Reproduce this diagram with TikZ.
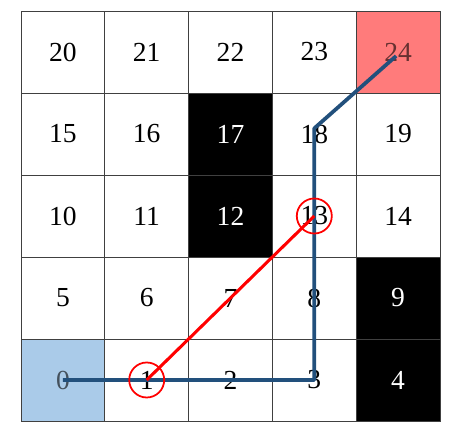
\documentclass[tikz,border=0pt]{standalone}
\usepackage{fontspec}
\setmainfont{Liberation Serif}
\definecolor{gridgray}{HTML}{404040}
\definecolor{startblue}{HTML}{AACBE9}
\definecolor{goalred}{HTML}{FF7B7B}
\definecolor{pathblue}{HTML}{22507C}
\tikzset{
    cellbox/.style={draw=gridgray, line width=0.7pt, minimum width=2.514cm, minimum height=2.46cm,
        inner sep=0pt, outer sep=0pt, font=\fontsize{23.5}{28}\selectfont},
    wall/.style={fill=black, text=white},
    startcell/.style={fill=startblue, text=startblue!40!black},
    goalcell/.style={fill=goalred, text=goalred!40!black},
    ring/.style={draw=red, line width=1.5pt, circle, minimum size=1.05cm}
}
\begin{document}
\begin{tikzpicture}[x = 2.514cm, y = 2.46cm]
        \useasboundingbox (-0.63cm, -0.6cm) rectangle (13.08cm, 12.63cm);

        % grid cells
        \foreach \n in {0, ..., 24}{
                \pgfmathtruncatemacro\col{mod(\n, 5)}
                \pgfmathtruncatemacro\row{div(\n, 5)}
                \node[cellbox] (c\n) at (\col + 0.5, \row + 0.5) {\n};
            }

        % walls
        \foreach \n/\col/\row in {4/4/0, 9/4/1, 12/2/2, 17/2/3}{
                \node[cellbox, wall] (c\n) at (\col + 0.5, \row + 0.5) {\n};
            }

        \node[cellbox, startcell] (c0) at (0.5, 0.5) {0};
        \node[cellbox, goalcell] (c24) at (4.5, 4.5) {24};

        % paths
        \draw[pathblue, line width=3.2pt, line join=round] (c0.center) -- (c3.center) -- ([yshift=0.17cm]c18.center) -- ([xshift=-0.06cm, yshift=-0.12cm]c24.center);
        \draw[red, line width=2.6pt] (c1.center) -- (c13.center);

        \node[ring] (r1) at (c1) {};
        \node[ring] (r13) at (c13) {};
    \end{tikzpicture}
\end{document}
